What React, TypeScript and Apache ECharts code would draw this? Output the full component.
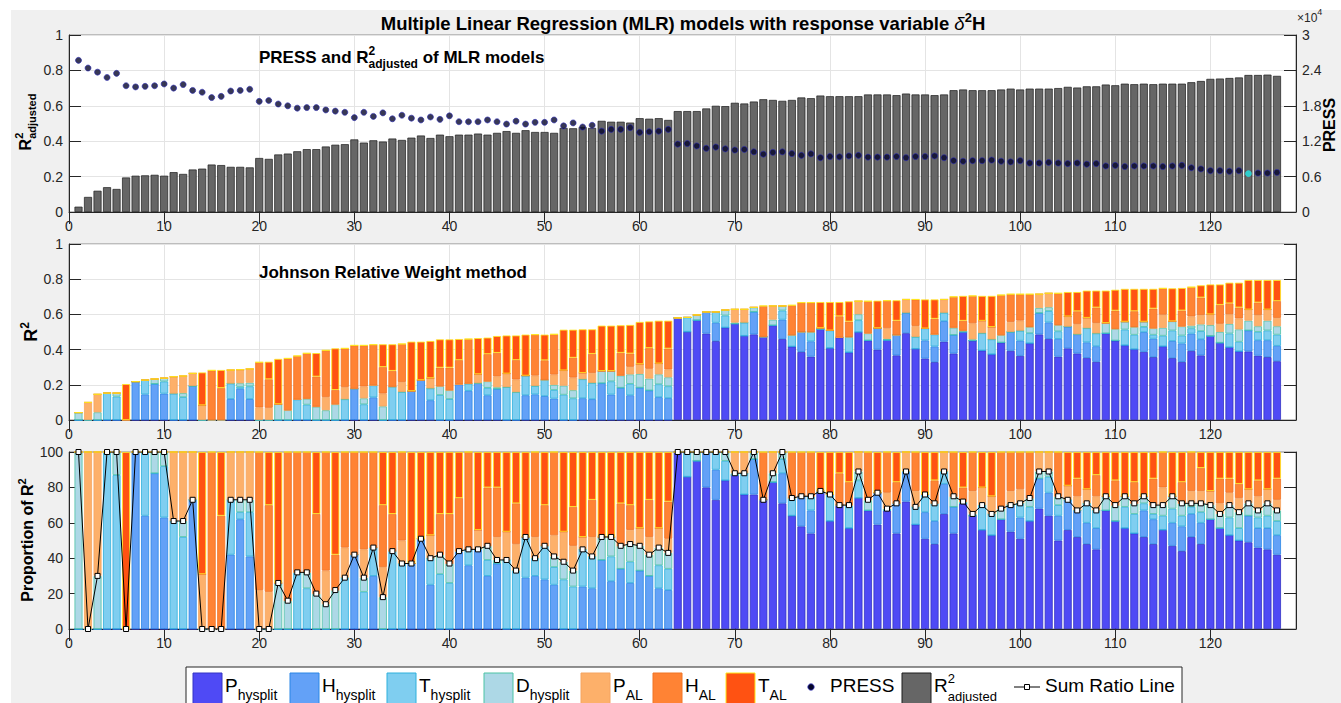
import React, { useEffect, useRef } from 'react';
import * as echarts from 'echarts';

// ---------------- DATA ----------------
const N_MODELS = 127;
const MODEL_NUMBERS = Array.from({ length: N_MODELS }, (_, i) => i + 1);
const HIGHLIGHT_MODEL = 124;
const X_MAX = 129; // axis runs 0 … 129, ticks every 10

// Adjusted R² of each MLR model (top panel, left axis)
const R2_ADJ = [
  0.03, 0.085, 0.12, 0.14, 0.13, 0.195, 0.205, 0.207, 0.21, 0.205,
  0.225, 0.215, 0.24, 0.245, 0.268, 0.265, 0.255, 0.255, 0.252, 0.305,
  0.30, 0.325, 0.33, 0.343, 0.355, 0.355, 0.37, 0.38, 0.383, 0.41,
  0.392, 0.405, 0.398, 0.415, 0.407, 0.42, 0.432, 0.418, 0.437, 0.428,
  0.437, 0.437, 0.443, 0.437, 0.447, 0.457, 0.447, 0.462, 0.452, 0.452,
  0.447, 0.475, 0.473, 0.48, 0.475, 0.515, 0.51, 0.51, 0.505, 0.53,
  0.527, 0.53, 0.52, 0.57, 0.57, 0.57, 0.585, 0.60, 0.598, 0.617,
  0.613, 0.624, 0.637, 0.633, 0.628, 0.633, 0.647, 0.643, 0.658, 0.654,
  0.654, 0.654, 0.654, 0.664, 0.664, 0.664, 0.66, 0.669, 0.664, 0.664,
  0.66, 0.664, 0.688, 0.692, 0.688, 0.688, 0.688, 0.692, 0.697, 0.692,
  0.697, 0.697, 0.697, 0.70, 0.707, 0.703, 0.71, 0.71, 0.72, 0.716,
  0.725, 0.722, 0.725, 0.722, 0.725, 0.725, 0.725, 0.733, 0.74, 0.752,
  0.754, 0.757, 0.76, 0.774, 0.774, 0.776, 0.769,
];

// PRESS of each model, in units of 10^4 (top panel, right axis)
const PRESS_E4 = [
  2.57, 2.44, 2.37, 2.28, 2.35, 2.14, 2.12, 2.13, 2.14, 2.17,
  2.10, 2.16, 2.06, 2.03, 1.94, 1.96, 2.05, 2.06, 2.08, 1.875,
  1.89, 1.83, 1.80, 1.76, 1.77, 1.77, 1.73, 1.71, 1.69, 1.60,
  1.69, 1.62, 1.68, 1.58, 1.64, 1.59, 1.56, 1.61, 1.57, 1.63,
  1.53, 1.53, 1.53, 1.56, 1.53, 1.49, 1.54, 1.49, 1.52, 1.52,
  1.56, 1.46, 1.51, 1.44, 1.47, 1.37, 1.40, 1.40, 1.43, 1.35,
  1.36, 1.37, 1.40, 1.15, 1.16, 1.12, 1.08, 1.10, 1.07, 1.05,
  1.06, 1.02, 0.98, 1.01, 1.02, 0.99, 0.96, 0.985, 0.92, 0.94,
  0.935, 0.95, 0.96, 0.93, 0.93, 0.93, 0.94, 0.92, 0.94, 0.94,
  0.95, 0.92, 0.87, 0.86, 0.87, 0.87, 0.88, 0.86, 0.85, 0.87,
  0.83, 0.83, 0.84, 0.83, 0.82, 0.83, 0.81, 0.82, 0.78, 0.79,
  0.77, 0.78, 0.78, 0.78, 0.77, 0.78, 0.79, 0.75, 0.73, 0.70,
  0.70, 0.69, 0.70, 0.65, 0.66, 0.66, 0.67,
];

// Total R² of each model (middle panel stack height)
const R2_TOTAL = [
  0.042, 0.10, 0.146, 0.153, 0.153, 0.204, 0.218, 0.227, 0.233, 0.238,
  0.246, 0.25, 0.265, 0.27, 0.282, 0.284, 0.284, 0.286, 0.29, 0.328,
  0.331, 0.347, 0.35, 0.364, 0.379, 0.38, 0.396, 0.407, 0.407, 0.424,
  0.424, 0.428, 0.43, 0.43, 0.432, 0.445, 0.445, 0.449, 0.458, 0.458,
  0.46, 0.46, 0.465, 0.468, 0.477, 0.48, 0.48, 0.485, 0.485, 0.485,
  0.487, 0.513, 0.513, 0.515, 0.515, 0.536, 0.536, 0.538, 0.54, 0.557,
  0.56, 0.564, 0.564, 0.58, 0.583, 0.597, 0.614, 0.614, 0.625, 0.629,
  0.629, 0.64, 0.648, 0.648, 0.648, 0.652, 0.667, 0.667, 0.67, 0.67,
  0.67, 0.674, 0.675, 0.675, 0.678, 0.678, 0.68, 0.685, 0.685, 0.685,
  0.685, 0.685, 0.70, 0.705, 0.705, 0.705, 0.705, 0.71, 0.715, 0.715,
  0.715, 0.715, 0.72, 0.72, 0.727, 0.727, 0.735, 0.735, 0.735, 0.74,
  0.745, 0.745, 0.745, 0.745, 0.748, 0.748, 0.75, 0.755, 0.765, 0.77,
  0.77, 0.78, 0.78, 0.795, 0.795, 0.795, 0.795,
];

// Proportion of R² (%) carried by each predictor (Johnson relative weights)
const P_HYSPLIT = [
  0, 0, 0, 0, 0, 0, 0, 0, 0, 0, 0, 0, 0, 0, 0, 0, 0, 0, 0, 0,
  0, 0, 0, 0, 0, 0, 0, 0, 0, 0, 0, 0, 0, 0, 0, 0, 0, 0, 0, 0,
  0, 0, 0, 0, 0, 0, 0, 0, 0, 0, 0, 0, 0, 0, 0, 0, 0, 0, 0, 0,
  0, 0, 0,
  100, 86, 95, 80, 73, 84, 87, 76, 76, 73,
  83, 71, 64, 58, 54, 77, 61, 70, 57, 74,
  67, 59, 67, 54, 72, 59, 51, 48, 65, 54,
  71, 64, 56, 53, 62, 55, 51, 61, 68, 64,
  50, 56, 52, 48, 45, 67, 61, 57, 54, 52,
  48, 56, 47, 44, 52, 48, 62, 57, 53, 50,
  49, 46, 45, 42,
];
const H_HYSPLIT = [
  0, 0, 0, 0, 0, 0, 100, 64, 88, 63,
  0, 0, 73, 0, 0, 0, 42, 62, 41, 0,
  0, 0, 0, 0, 0, 0, 0, 0, 0, 42,
  0, 30, 0, 0, 0, 37, 51, 25, 0, 0,
  44, 36, 45, 30, 37, 0, 0, 29, 30, 28,
  25, 0, 0, 24, 23, 39, 27, 34, 26, 33,
  30, 23, 22, 0, 0, 0, 20, 17, 0, 0,
  0, 20, 0, 0, 17, 0, 17, 13, 0, 0,
  0, 0, 0, 0, 18, 0, 17, 17, 0, 15,
  13, 17, 15, 0, 0, 0, 0, 0, 15, 12,
  0, 17, 13, 14, 17, 15, 12, 12, 0, 0,
  0, 0, 15, 14, 0, 13, 14, 13, 12, 0,
  0, 0, 0, 15, 11, 12, 11,
];
const T_HYSPLIT = [
  0, 0, 0, 100, 87, 0, 0, 36, 0, 29,
  61, 52, 0, 0, 0, 0, 31, 4, 25, 0,
  0, 0, 0, 32, 23, 0, 0, 0, 29, 0,
  21, 16, 0, 44, 37, 0, 0, 15, 31, 26,
  0, 9, 0, 9, 0, 39, 33, 23, 10, 19,
  10, 28, 24, 21, 18, 0, 14, 0, 12, 0,
  0, 13, 12, 0, 14, 0, 0, 10, 11, 0,
  12, 0, 0, 0, 8, 10, 0, 8, 0, 15,
  0, 13, 10, 0, 0, 0, 0, 0, 10, 10,
  10, 7, 0, 0, 0, 14, 12, 0, 0, 8,
  8, 0, 9, 6, 0, 0, 11, 10, 0, 0,
  12, 11, 4, 3, 8, 8, 6, 4, 6, 0,
  0, 10, 7, 0, 6, 7, 8,
];
const D_HYSPLIT = [
  100, 0, 30, 0, 13, 0, 0, 0, 12, 8,
  0, 9, 0, 0, 0, 0, 0, 7, 7, 0,
  0, 26, 16, 0, 9, 20, 14, 22, 0, 0,
  8, 0, 18, 0, 0, 0, 0, 0, 11, 11,
  0, 0, 0, 8, 2, 0, 0, 0, 0, 0,
  6, 10, 9, 0, 0, 13, 11, 13, 10, 14,
  12, 10, 9, 0, 0, 5, 0, 0, 5, 1,
  0, 4, 0, 5, 4, 0, 0, 0, 1, 0,
  0, 0, 5, 6, 0, 1, 0, 0, 0, 0,
  0, 0, 6, 1, 1, 0, 0, 6, 0, 0,
  5, 4, 3, 5, 0, 0, 0, 0, 8, 9,
  6, 6, 4, 5, 6, 7, 7, 2, 5, 8,
  8, 7, 9, 7, 4, 7, 6,
];
const P_AL = [
  0, 100, 70, 0, 0, 0, 0, 0, 0, 0,
  39, 39, 27, 31, 0, 0, 27, 27, 27, 22,
  21, 0, 0, 0, 0, 0, 19, 0, 17, 0,
  16, 0, 17, 0, 13, 0, 0, 13, 0, 0,
  0, 0, 11, 0, 13, 16, 15, 0, 12, 0,
  12, 17, 14, 7, 11, 0, 0, 0, 8, 10,
  10, 11, 8, 0, 0, 0, 0, 0, 0, 12,
  12, 0, 0, 12, 0, 0, 0, 0, 0, 0,
  0, 0, 11, 0, 0, 9, 0, 11, 9, 0,
  0, 11, 0, 0, 13, 10, 10, 0, 8, 8,
  0, 11, 11, 0, 8, 8, 8, 8, 0, 0,
  0, 0, 0, 0, 10, 0, 0, 7, 7, 8,
  6, 7, 8, 8, 8, 8, 6,
];
const H_AL = [
  0, 0, 0, 0, 0, 0, 0, 0, 0, 0,
  0, 0, 0, 0, 100, 64, 0, 0, 0, 78,
  49, 0, 84, 68, 68, 45, 67, 20, 54, 58,
  55, 54, 35, 21, 50, 0, 0, 0, 23, 28,
  30, 55, 0, 33, 28, 0, 23, 0, 48, 23,
  47, 0, 22, 0, 21, 0, 0, 24, 14, 0,
  21, 0, 21, 0, 0, 0, 0, 0, 0, 0,
  0, 0, 27, 0, 0, 26, 25, 25, 0, 0,
  18, 13, 0, 27, 0, 23, 12, 0, 22, 0,
  13, 0, 25, 8, 22, 0, 0, 32, 22, 21,
  26, 0, 0, 25, 0, 10, 0, 12, 0, 14,
  0, 12, 0, 15, 20, 0, 12, 22, 13, 0,
  14, 8, 8, 0, 9, 0, 12,
];
const T_AL = [
  0, 0, 0, 0, 0, 100, 0, 0, 0, 0,
  0, 0, 0, 69, 0, 36, 0, 0, 0, 0,
  30, 74, 0, 0, 0, 35, 0, 58, 0, 0,
  0, 0, 30, 35, 0, 63, 49, 47, 35, 35,
  26, 0, 44, 20, 20, 45, 29, 48, 0, 30,
  0, 45, 31, 48, 27, 48, 48, 29, 30, 43,
  27, 43, 28, 0, 0, 0, 0, 0, 0, 0,
  0, 0, 0, 0, 0, 0, 0, 0, 22, 24,
  12, 17, 0, 0, 23, 0, 17, 0, 0, 24,
  16, 0, 0, 20, 0, 20, 25, 0, 0, 0,
  0, 0, 0, 0, 19, 15, 21, 13, 25, 16,
  25, 17, 25, 15, 0, 25, 17, 0, 9, 22,
  15, 15, 18, 21, 16, 21, 15,
];

// ---------------- STYLE ----------------
const FONT = '"Liberation Sans", Arial, Helvetica, sans-serif';
const INK = '#262626';

const PREDICTORS = [
  { name: 'P_hysplit', main: 'P', sub: 'hysplit', values: P_HYSPLIT, fill: '#4F4AF5', edge: '#3434c4' },
  { name: 'H_hysplit', main: 'H', sub: 'hysplit', values: H_HYSPLIT, fill: '#63A1F7', edge: '#2b86e6' },
  { name: 'T_hysplit', main: 'T', sub: 'hysplit', values: T_HYSPLIT, fill: '#7FCEF0', edge: '#2fb0dc' },
  { name: 'D_hysplit', main: 'D', sub: 'hysplit', values: D_HYSPLIT, fill: '#ADD8E6', edge: '#4cc3a4' },
  { name: 'P_AL', main: 'P', sub: 'AL', values: P_AL, fill: '#FDB06A', edge: '#f5a460' },
  { name: 'H_AL', main: 'H', sub: 'AL', values: H_AL, fill: '#FF8334', edge: '#f07424' },
  { name: 'T_AL', main: 'T', sub: 'AL', values: T_AL, fill: '#FF5212', edge: '#ffe81a' },
];

// ---------------- TEXT HELPERS ----------------
let measureCtx: CanvasRenderingContext2D | null = null;
function measure(t: string, size: number, bold?: boolean, italic?: boolean) {
  if (!measureCtx) measureCtx = document.createElement('canvas').getContext('2d');
  if (!measureCtx) return t.length * size * 0.55;
  measureCtx.font = `${italic ? 'italic ' : ''}${bold ? 'bold ' : ''}${size}px "Liberation Sans", Arial, sans-serif`;
  return measureCtx.measureText(t).width;
}

type Seg = { t: string; size: number; bold?: boolean; italic?: boolean; dy?: number; hold?: boolean };

function textEl(x: number, baseline: number, s: Seg, color = '#000') {
  return {
    type: 'text',
    x,
    y: baseline + (s.dy || 0) - s.size * 0.35,
    silent: true,
    z: 50,
    style: {
      text: s.t,
      fontSize: s.size,
      fontWeight: s.bold ? 'bold' : 'normal',
      fontStyle: s.italic ? 'italic' : 'normal',
      fontFamily: FONT,
      fill: color,
      align: 'left',
      textAlign: 'left',
      verticalAlign: 'middle',
      textVerticalAlign: 'middle',
    },
  };
}

function segWidth(segs: Seg[]) {
  let w = 0;
  let held = 0;
  segs.forEach((s) => {
    const sw = measure(s.t, s.size, s.bold, s.italic);
    if (s.hold) held = sw;
    else {
      w += Math.max(sw, held);
      held = 0;
    }
  });
  return w + held;
}

function inline(segs: Seg[], x0: number, baseline: number, align: 'left' | 'center', color = '#000') {
  const total = segWidth(segs);
  let x = align === 'center' ? x0 - total / 2 : x0;
  let held = 0;
  const els: any[] = [];
  segs.forEach((s) => {
    const sw = measure(s.t, s.size, s.bold, s.italic);
    els.push(textEl(x, baseline, s, color));
    if (s.hold) held = sw;
    else {
      x += Math.max(sw, held);
      held = 0;
    }
  });
  return els;
}

function rotatedLabel(segs: Seg[], cy: number, baselineX: number) {
  return {
    type: 'group',
    x: baselineX,
    y: cy,
    rotation: Math.PI / 2,
    children: inline(segs, 0, 0, 'center', '#000'),
  };
}

// ---------------- AXES ----------------
const GRID_LEFT = 69;
const GRID_RIGHT = 45;
// axis positions 0 … 129; models sit at 1 … 127
const AXIS_POSITIONS = Array.from({ length: X_MAX + 1 }, (_, i) => String(i));
const isTick = (index: number) => index % 10 === 0 && index <= 120;
const onAxis = (values: any[]) => ['-', ...values, '-', '-'];

function xAxisBottom(gridIndex: number, split: boolean) {
  return {
    type: 'category',
    gridIndex,
    data: AXIS_POSITIONS,
    boundaryGap: false,
    position: 'bottom',
    axisLine: { show: true, onZero: false, lineStyle: { color: INK, width: 1 } },
    axisTick: { show: true, inside: true, length: 12, interval: isTick, lineStyle: { color: INK, width: 1 } },
    axisLabel: { color: INK, fontSize: 14, fontFamily: FONT, margin: 7, interval: isTick },
    splitLine: { show: split, interval: isTick, lineStyle: { color: '#e4e4e4', width: 1 } },
  };
}
function xAxisTop(gridIndex: number) {
  return {
    type: 'category',
    gridIndex,
    data: AXIS_POSITIONS,
    boundaryGap: false,
    position: 'top',
    axisLine: { show: false },
    axisTick: { show: true, inside: true, length: 12, interval: isTick, lineStyle: { color: INK, width: 1 } },
    axisLabel: { show: false },
    splitLine: { show: false },
  };
}
function yAxis(gridIndex: number, position: 'left' | 'right', min: number, max: number, interval: number, labels: boolean, split: boolean) {
  return {
    type: 'value',
    gridIndex,
    position,
    min,
    max,
    interval,
    axisLine: { show: true, lineStyle: { color: INK, width: 1 } },
    axisTick: { show: true, inside: true, length: 12, lineStyle: { color: INK, width: 1 } },
    axisLabel: { show: labels, color: INK, fontSize: 14, fontFamily: FONT, margin: 6 },
    splitLine: { show: split, lineStyle: { color: '#e4e4e4', width: 1 } },
  };
}

function buildOption() {
  const grids = [
    { left: GRID_LEFT, right: GRID_RIGHT, top: 35, height: 177 },
    { left: GRID_LEFT, right: GRID_RIGHT, top: 244, height: 176 },
    { left: GRID_LEFT, right: GRID_RIGHT, top: 452, height: 177 },
  ].map((g) => ({ ...g, show: true, backgroundColor: '#ffffff', borderColor: '#8a8a8a', borderWidth: 1 }));

  const series: any[] = [];

  // Top panel: adjusted R² bars
  series.push({
    name: 'R2adjusted',
    type: 'bar',
    xAxisIndex: 0,
    yAxisIndex: 0,
    barWidth: 8,
    data: onAxis(R2_ADJ),
    itemStyle: { color: '#666666', borderColor: '#1c1c1c', borderWidth: 0.7 },
  });
  // Top panel: PRESS
  series.push({
    name: 'PRESS',
    type: 'scatter',
    xAxisIndex: 0,
    yAxisIndex: 1,
    symbol: 'circle',
    symbolSize: 6,
    z: 5,
    data: onAxis(
      MODEL_NUMBERS.map((m, i) =>
        m === HIGHLIGHT_MODEL
          ? { value: PRESS_E4[i], itemStyle: { color: '#22e6e6', borderColor: '#22e6e6', borderWidth: 0.6 } }
          : PRESS_E4[i]
      )
    ),
    itemStyle: { color: '#06062a', borderColor: '#2a2ab0', borderWidth: 0.8 },
  });

  // Middle panel: relative weights (share of R²)
  PREDICTORS.forEach((p) => {
    series.push({
      name: p.name,
      type: 'bar',
      stack: 'jrw',
      xAxisIndex: 1,
      yAxisIndex: 2,
      barWidth: 8,
      data: onAxis(MODEL_NUMBERS.map((_, i) => (R2_TOTAL[i] * p.values[i]) / 100)),
      itemStyle: { color: p.fill, borderColor: p.edge, borderWidth: 0.8 },
    });
  });

  // Bottom panel: proportions
  PREDICTORS.forEach((p) => {
    series.push({
      name: p.name,
      type: 'bar',
      stack: 'prop',
      xAxisIndex: 2,
      yAxisIndex: 4,
      barWidth: 8,
      data: onAxis(p.values),
      itemStyle: { color: p.fill, borderColor: p.edge, borderWidth: 0.8 },
    });
  });

  // Sum Ratio Line (share of the four HYSPLIT predictors)
  series.push({
    name: 'Sum Ratio Line',
    type: 'line',
    xAxisIndex: 2,
    yAxisIndex: 4,
    symbol: 'rect',
    symbolSize: 5,
    showAllSymbol: true,
    z: 10,
    data: onAxis(MODEL_NUMBERS.map((_, i) => P_HYSPLIT[i] + H_HYSPLIT[i] + T_HYSPLIT[i] + D_HYSPLIT[i])),
    lineStyle: { color: '#000', width: 1 },
    itemStyle: { color: '#ffffff', borderColor: '#000', borderWidth: 1 },
  });

  // ---------- graphics: background, titles, axis names, legend ----------
  const g: any[] = [];
  g.push({ type: 'rect', silent: true, z: -100, shape: { x: 11, y: 10, width: 1330, height: 693 }, style: { fill: '#f0f0f0' } });

  g.push(
    ...inline(
      [
        { t: 'Multiple Linear Regression (MLR) models with response variable ', size: 18.5, bold: true },
        { t: 'δ', size: 18.5, italic: true },
        { t: '2', size: 13, bold: true, dy: -8 },
        { t: 'H', size: 18.5, bold: true },
      ],
      683,
      30,
      'center'
    )
  );
  g.push(
    ...inline(
      [
        { t: 'PRESS and R', size: 17, bold: true },
        { t: '2', size: 12, bold: true, dy: -8, hold: true },
        { t: 'adjusted', size: 12, bold: true, dy: 5 },
        { t: ' of MLR models', size: 17, bold: true },
      ],
      259,
      63,
      'left'
    )
  );
  g.push(...inline([{ t: 'Johnson Relative Weight method', size: 17, bold: true }], 259, 278, 'left'));

  g.push(
    rotatedLabel(
      [
        { t: 'R', size: 16, bold: true },
        { t: '2', size: 11, bold: true, dy: -8, hold: true },
        { t: 'adjusted', size: 11, bold: true, dy: 5 },
      ],
      122,
      31
    )
  );
  g.push(rotatedLabel([{ t: 'R', size: 18, bold: true }, { t: '2', size: 12, bold: true, dy: -8 }], 332, 37));
  g.push(
    rotatedLabel([{ t: 'Proportion of R', size: 16, bold: true }, { t: '2', size: 11, bold: true, dy: -7 }], 540, 33)
  );
  g.push(rotatedLabel([{ t: 'PRESS', size: 16, bold: true }], 125, 1335));
  g.push(...inline([{ t: '×10', size: 12 }, { t: '4', size: 9, dy: -7 }], 1297, 22, 'left', INK));

  // Legend
  g.push({ type: 'rect', silent: true, z: 40, shape: { x: 186, y: 667, width: 996, height: 60 }, style: { fill: '#fff', stroke: INK, lineWidth: 1 } });
  const swatchX = [193, 290, 387, 484, 581, 653, 726];
  PREDICTORS.forEach((p, i) => {
    const x = swatchX[i];
    g.push({ type: 'rect', silent: true, z: 45, shape: { x, y: 673, width: 29, height: 34 }, style: { fill: p.fill, stroke: p.edge, lineWidth: 1 } });
    g.push(...inline([{ t: p.main, size: 19 }, { t: p.sub, size: 14, dy: 8 }], x + 32, 692, 'left'));
  });
  g.push({ type: 'circle', silent: true, z: 45, shape: { cx: 811, cy: 687, r: 3.2 }, style: { fill: '#06062a', stroke: '#2a2ab0', lineWidth: 0.8 } });
  g.push(...inline([{ t: 'PRESS', size: 19 }], 830, 692, 'left'));
  g.push({ type: 'rect', silent: true, z: 45, shape: { x: 902, y: 673, width: 29, height: 34 }, style: { fill: '#666666', stroke: '#1c1c1c', lineWidth: 1 } });
  g.push(
    ...inline(
      [
        { t: 'R', size: 19 },
        { t: '2', size: 13, dy: -9, hold: true },
        { t: 'adjusted', size: 13, dy: 9 },
      ],
      934,
      692,
      'left'
    )
  );
  g.push({ type: 'line', silent: true, z: 45, shape: { x1: 1014, y1: 687, x2: 1040, y2: 687 }, style: { stroke: '#000', lineWidth: 1 } });
  g.push({ type: 'rect', silent: true, z: 46, shape: { x: 1024.5, y: 684.5, width: 5, height: 5 }, style: { fill: '#fff', stroke: '#000', lineWidth: 1 } });
  g.push(...inline([{ t: 'Sum Ratio Line', size: 19 }], 1045, 692, 'left'));

  return {
    animation: false,
    backgroundColor: '#ffffff',
    textStyle: { fontFamily: FONT },
    grid: grids,
    xAxis: [xAxisBottom(0, true), xAxisBottom(1, true), xAxisBottom(2, false), xAxisTop(0), xAxisTop(1), xAxisTop(2)],
    yAxis: [
      yAxis(0, 'left', 0, 1, 0.2, true, true),
      yAxis(0, 'right', 0, 3, 0.6, true, false),
      yAxis(1, 'left', 0, 1, 0.2, true, true),
      yAxis(1, 'right', 0, 1, 0.2, false, false),
      yAxis(2, 'left', 0, 100, 20, true, false),
      yAxis(2, 'right', 0, 100, 20, false, false),
    ],
    series,
    graphic: { elements: g },
  };
}

export default function App() {
  const ref = useRef<HTMLDivElement>(null);
  useEffect(() => {
    if (!ref.current) return;
    const chart = echarts.init(ref.current, undefined, { renderer: 'svg' });
    chart.setOption(buildOption() as any);
    return () => chart.dispose();
  }, []);
  return (
    <div
      ref={ref}
      style={{ position: 'absolute', left: 0, top: 0, width: 1341, height: 703, background: '#ffffff' }}
    />
  );
}
